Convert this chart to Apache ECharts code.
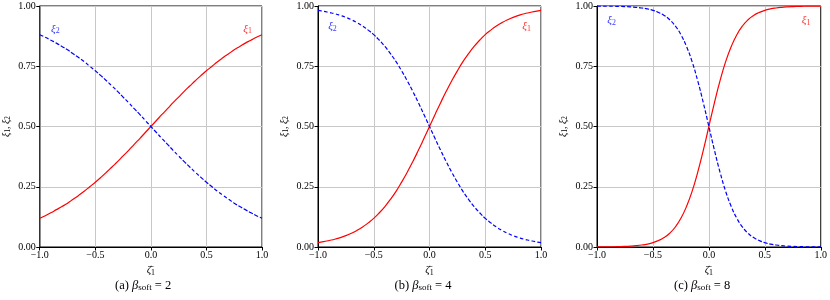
<!DOCTYPE html>
<html><head><meta charset="utf-8">
<script src="https://cdn.jsdelivr.net/npm/echarts@6/dist/echarts.min.js"></script>
<style>html,body{margin:0;padding:0;background:#fff}#c{width:830px;height:300px}</style>
</head><body><div id="c"></div>
<script>
// x positions (zeta-bar_1)
const xs = [-1.00,-0.95,-0.90,-0.85,-0.80,-0.75,-0.70,-0.65,-0.60,-0.55,-0.50,-0.45,-0.40,-0.35,-0.30,-0.25,-0.20,-0.15,-0.10,-0.05,0.00,
            0.05,0.10,0.15,0.20,0.25,0.30,0.35,0.40,0.45,0.50,0.55,0.60,0.65,0.70,0.75,0.80,0.85,0.90,0.95,1.00];
// panel (a) beta_soft = 2
const xi1_a = [0.119,0.130,0.142,0.155,0.168,0.182,0.198,0.214,0.231,0.250,0.269,0.289,0.310,0.332,0.354,0.378,0.401,0.426,0.450,0.475,0.500,
               0.525,0.550,0.574,0.599,0.622,0.646,0.668,0.690,0.711,0.731,0.750,0.769,0.786,0.802,0.818,0.832,0.846,0.858,0.870,0.881];
const xi2_a = [0.881,0.870,0.858,0.846,0.832,0.818,0.802,0.786,0.769,0.750,0.731,0.711,0.690,0.668,0.646,0.622,0.599,0.574,0.550,0.525,0.500,
               0.475,0.450,0.426,0.401,0.378,0.354,0.332,0.310,0.289,0.269,0.250,0.231,0.214,0.198,0.182,0.168,0.155,0.142,0.130,0.119];
// panel (b) beta_soft = 4
const xi1_b = [0.018,0.022,0.027,0.032,0.039,0.047,0.057,0.069,0.083,0.100,0.119,0.142,0.168,0.198,0.231,0.269,0.310,0.354,0.401,0.450,0.500,
               0.550,0.599,0.646,0.690,0.731,0.769,0.802,0.832,0.858,0.881,0.900,0.917,0.931,0.943,0.953,0.961,0.968,0.973,0.978,0.982];
const xi2_b = [0.982,0.978,0.973,0.968,0.961,0.953,0.943,0.931,0.917,0.900,0.881,0.858,0.832,0.802,0.769,0.731,0.690,0.646,0.599,0.550,0.500,
               0.450,0.401,0.354,0.310,0.269,0.231,0.198,0.168,0.142,0.119,0.100,0.083,0.069,0.057,0.047,0.039,0.032,0.027,0.022,0.018];
// panel (c) beta_soft = 8
const xi1_c = [0.0003,0.0005,0.0007,0.0011,0.0017,0.0025,0.0037,0.0055,0.0082,0.0121,0.018,0.027,0.039,0.057,0.083,0.119,0.168,0.231,0.310,0.401,0.500,
               0.599,0.690,0.769,0.832,0.881,0.917,0.943,0.961,0.973,0.982,0.9879,0.9918,0.9945,0.9963,0.9975,0.9983,0.9989,0.9993,0.9995,0.9997];
const xi2_c = [0.9997,0.9995,0.9993,0.9989,0.9983,0.9975,0.9963,0.9945,0.9918,0.9879,0.982,0.973,0.961,0.943,0.917,0.881,0.832,0.769,0.690,0.599,0.500,
               0.401,0.310,0.231,0.168,0.119,0.083,0.057,0.039,0.027,0.018,0.0121,0.0082,0.0055,0.0037,0.0025,0.0017,0.0011,0.0007,0.0005,0.0003];
const xTicks = [-1.0,-0.5,0.0,0.5,1.0];
const yTicks = [0.00,0.25,0.50,0.75,1.00];
const captions = [['(a) ','2'],['(b) ','4'],['(c) ','8']];
// label anchor positions (data coords) for the curve annotations
const lab2 = [[-0.86,0.905],[-0.87,0.917],[-0.87,0.942]];
const lab1 = [[0.87,0.905],[0.87,0.917],[0.87,0.942]];

const FONT = '"Liberation Serif","DejaVu Serif",serif';
function richFor(color, size){
  return {
    v:{fontFamily:FONT, fontStyle:'italic', fontSize:size, color:color},
    s:{fontFamily:FONT, fontSize:size*0.72, color:color, padding:[size*0.45,0,0,0]},
    n:{fontFamily:FONT, fontSize:size, color:color}
  };
}
const panels = [
  {left:38, width:224, xi1:xi1_a, xi2:xi2_a},
  {left:318, width:223, xi1:xi1_b, xi2:xi2_b},
  {left:597, width:224, xi1:xi1_c, xi2:xi2_c}
];
const grid=[], xAxis=[], yAxis=[], series=[], graphic=[];
panels.forEach((p,i)=>{
  grid.push({left:p.left, width:p.width, top:6, height:241, show:true, borderColor:'#000', borderWidth:1, backgroundColor:'transparent'});
  xAxis.push({type:'value', gridIndex:i, min:-1, max:1, interval:0.5,
    axisLine:{show:true, onZero:false, lineStyle:{color:'#000', width:1}},
    axisTick:{show:true, length:3.5, lineStyle:{color:'#000'}},
    splitLine:{show:true, lineStyle:{color:'#c8c8c8', width:1}},
    axisLabel:{color:'#000', fontFamily:FONT, fontSize:10, margin:3,
      formatter:v=>(v<0?'\u2212':'')+Math.abs(v).toFixed(1)},
    name:'{v|\u03B6\u0304}{s|1}', nameLocation:'middle', nameGap:17,
    nameTextStyle:{rich:richFor('#000',11)}});
  yAxis.push({type:'value', gridIndex:i, min:0, max:1, interval:0.25,
    axisLine:{show:true, onZero:false, lineStyle:{color:'#000', width:1}},
    axisTick:{show:true, length:3.5, lineStyle:{color:'#000'}},
    splitLine:{show:true, lineStyle:{color:'#c8c8c8', width:1}},
    axisLabel:{color:'#000', fontFamily:FONT, fontSize:10, margin:4, formatter:v=>v.toFixed(2)},
    name:'{v|\u03BE}{s|1}{n|, }{v|\u03BE}{s|2}', nameLocation:'middle', nameGap:28, nameRotate:90,
    nameTextStyle:{rich:richFor('#000',10)}});
  series.push({type:'line', xAxisIndex:i, yAxisIndex:i, showSymbol:false, smooth:true, z:3,
    data:xs.map((x,k)=>[x,p.xi1[k]]), lineStyle:{color:'#ff0000', width:1.2}});
  series.push({type:'line', xAxisIndex:i, yAxisIndex:i, showSymbol:false, smooth:true, z:3,
    data:xs.map((x,k)=>[x,p.xi2[k]]), lineStyle:{color:'#0000ff', width:1.2, type:[4,2]}});
  series.push({type:'scatter', xAxisIndex:i, yAxisIndex:i, symbolSize:0, silent:true,
    data:[{value:lab2[i], label:{formatter:'{v|\u03BE}{s|2}', rich:richFor('#0000ff',11)}},
          {value:lab1[i], label:{formatter:'{v|\u03BE}{s|1}', rich:richFor('#ff0000',11)}}],
    label:{show:true, position:'inside'}});
  graphic.push({type:'text', left:p.left + p.width/2 - 35, top:279,
    style:{rich:{n:{fontFamily:FONT, fontSize:12.5, fill:'#000'},
                 b:{fontFamily:FONT, fontSize:12.5, fontStyle:'italic', fill:'#000'},
                 s:{fontFamily:FONT, fontSize:9, fill:'#000', padding:[5,0,0,0]}},
           text:'{n|'+captions[i][0]+'}{b|\u03B2}{s|soft}{n| = '+captions[i][1]+'}'}});
});
const chart = echarts.init(document.getElementById('c'), null, {renderer:'canvas'});
chart.setOption({animation:false, backgroundColor:'#fff', grid, xAxis, yAxis, series, graphic});
</script></body></html>
